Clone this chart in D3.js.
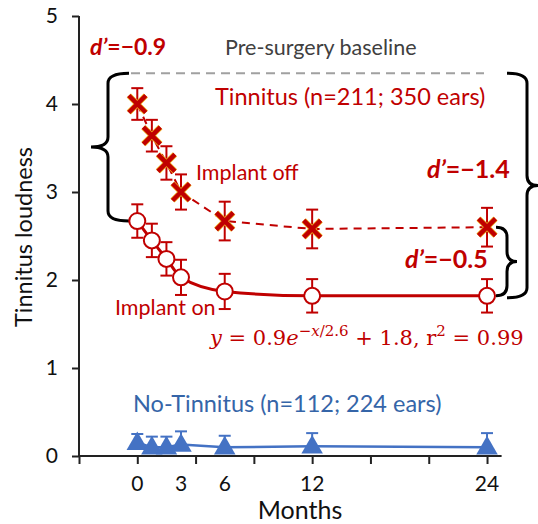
<!DOCTYPE html>
<html>
<head>
<meta charset="utf-8">
<script src="https://cdn.jsdelivr.net/npm/d3@7"></script>
<style>
  body { margin: 0; background: #fff; }
  text { font-family: Lato, "Open Sans", sans-serif; }
</style>
</head>
<body>
<svg id="chart" width="538" height="524"></svg>
<script>
var width = 538
var height = 524
var red = "#c00000";
var blue = "#4472c4";

// months after activation
var months = [0, 1, 2, 3, 6, 12, 24];
var monthLabels = [0, 3, 6, 12, 24];
var yTicks = [0, 1, 2, 3, 4, 5];
var baseline = 4.35;

var offMean = [4.0, 3.64, 3.33, 3.0, 2.67, 2.58, 2.6];
var offErr = [0.18, 0.18, 0.19, 0.2, 0.22, 0.22, 0.22];
var onMean = [2.67, 2.45, 2.24, 2.03, 1.87, 1.82, 1.82];
var onErr = [0.19, 0.19, 0.19, 0.2, 0.2, 0.19, 0.19];
var noMean = [0.15, 0.1, 0.1, 0.13, 0.1, 0.11, 0.1];
var noErr = [0.1, 0.12, 0.12, 0.15, 0.13, 0.15, 0.16];

var x = d3.scaleLinear().domain([-4, 25]).range([79, 501.6]);
var y = d3.scaleLinear().domain([0, 5]).range([456, 16]);

var svg = d3.select("#chart");

// axes
var yAxis = svg.append("g").attr("transform", "translate(79,0)")
    .call(d3.axisLeft(y).tickValues(yTicks).tickSize(7).tickPadding(14).tickFormat(d3.format("d")));
var xAxis = svg.append("g").attr("transform", "translate(0,456)")
    .call(d3.axisBottom(x).tickValues(d3.range(-4, 25, 4)).tickSize(8).tickFormat(""));
svg.selectAll(".domain").remove();
yAxis.append("line").attr("y1", 16).attr("y2", 456).attr("stroke", "#222").attr("stroke-width", 2);
xAxis.append("line").attr("x1", 79).attr("x2", 501.6).attr("stroke", "#222").attr("stroke-width", 2);
svg.selectAll(".tick line").attr("stroke", "#222").attr("stroke-width", 2);
yAxis.selectAll(".tick text").style("font-size", "21px").attr("fill", "#111").style("font-family", "Lato, sans-serif");

svg.append("g").selectAll("text")
    .data(monthLabels)
    .join("text")
    .attr("x", function(d) { return x(d); })
    .attr("y", 491)
    .attr("text-anchor", "middle")
    .style("font-size", "21px")
    .attr("fill", "#111")
    .text(function(d) { return d; });

svg.append("text").attr("x", 300).attr("y", 519).attr("text-anchor", "middle")
    .style("font-size", "25px").attr("fill", "#111").text("Months");
svg.append("text").attr("transform", "translate(32,237) rotate(-90)").attr("text-anchor", "middle")
    .style("font-size", "23.5px").attr("fill", "#111").text("Tinnitus loudness");

// pre-surgery baseline
svg.append("line")
    .attr("x1", 131).attr("x2", 484)
    .attr("y1", y(baseline)).attr("y2", y(baseline))
    .attr("stroke", "#a0a0a0").attr("stroke-width", 2).attr("stroke-dasharray", "9,6");
svg.append("text").attr("x", 225).attr("y", 55)
    .style("font-size", "21.5px").attr("fill", "#404040").text("Pre-surgery baseline");

// braces
function brace(x0, xv, xt, ya, yb) {
  var ym = (ya + yb) / 2;
  var r = 10;
  return "M" + x0 + "," + ya +
    " Q" + xv + "," + ya + " " + xv + "," + (ya + r) +
    " L" + xv + "," + (ym - r) +
    " Q" + xv + "," + ym + " " + xt + "," + ym +
    " Q" + xv + "," + ym + " " + xv + "," + (ym + r) +
    " L" + xv + "," + (yb - r) +
    " Q" + xv + "," + yb + " " + x0 + "," + yb;
}
var braceG = svg.append("g").attr("fill", "none").attr("stroke", "#000").attr("stroke-width", 3);
braceG.append("path").attr("d", brace(129, 108, 91, y(baseline), y(onMean[0])));
braceG.append("path").attr("d", brace(507, 527, 538, y(baseline), y(onMean[6]) + 2));
braceG.append("path").attr("d", brace(496, 507, 517, y(offMean[6]), y(onMean[6])));

// line generators
var lineOff = d3.line().x(function(d, i) { return x(months[i]); }).y(function(d) { return y(d); });
var lineOn = d3.line().curve(d3.curveMonotoneX).x(function(d, i) { return x(months[i]); }).y(function(d) { return y(d); });

function errorBars(g, mean, err, color, cap) {
  var eb = g.append("g").attr("stroke", color).attr("stroke-width", 2);
  mean.forEach(function(m, i) {
    var cx = x(months[i]);
    eb.append("line").attr("x1", cx).attr("x2", cx).attr("y1", y(m - err[i])).attr("y2", y(m + err[i]));
    eb.append("line").attr("x1", cx - cap).attr("x2", cx + cap).attr("y1", y(m + err[i])).attr("y2", y(m + err[i]));
    eb.append("line").attr("x1", cx - cap).attr("x2", cx + cap).attr("y1", y(m - err[i])).attr("y2", y(m - err[i]));
  });
}

// no-tinnitus
var noG = svg.append("g");
noG.append("path").attr("d", lineOff(noMean)).attr("fill", "none").attr("stroke", blue).attr("stroke-width", 2.5);
var ebNo = noG.append("g").attr("stroke", blue).attr("stroke-width", 2);
noMean.forEach(function(m, i) {
  var cx = x(months[i]);
  ebNo.append("line").attr("x1", cx).attr("x2", cx).attr("y1", y(m)).attr("y2", y(m + noErr[i]));
  ebNo.append("line").attr("x1", cx - 6).attr("x2", cx + 6).attr("y1", y(m + noErr[i])).attr("y2", y(m + noErr[i]));
});
noG.selectAll("path.tri")
    .data(noMean)
    .join("path")
    .attr("class", "tri")
    .attr("d", d3.symbol(d3.symbolTriangle, 200))
    .attr("transform", function(d, i) { return "translate(" + x(months[i]) + "," + (y(d) + 1) + ")"; })
    .attr("fill", blue);

// implant off
var offG = svg.append("g");
offG.append("path").attr("d", lineOff(offMean)).attr("fill", "none").attr("stroke", red)
    .attr("stroke-width", 2).attr("stroke-dasharray", "8,6");
errorBars(offG, offMean, offErr, red, 6);
offMean.forEach(function(m, i) {
  var cx = x(months[i]), cy = y(m), s = 8.5;
  var cross = "M" + (-s) + "," + (-s) + "L" + s + "," + s + "M" + (-s) + "," + s + "L" + s + "," + (-s);
  var mk = offG.append("g").attr("transform", "translate(" + cx + "," + cy + ")");
  mk.append("path").attr("d", cross).attr("stroke", "#f0b020").attr("stroke-width", 6);
  mk.append("path").attr("d", cross).attr("stroke", red).attr("stroke-width", 4.5);
});

// implant on
var onG = svg.append("g");
onG.append("path").attr("d", lineOn(onMean)).attr("fill", "none").attr("stroke", red).attr("stroke-width", 3);
errorBars(onG, onMean, onErr, red, 6);
onG.selectAll("circle")
    .data(onMean)
    .join("circle")
    .attr("cx", function(d, i) { return x(months[i]); })
    .attr("cy", function(d) { return y(d); })
    .attr("r", 8)
    .attr("fill", "#fff")
    .attr("stroke", red)
    .attr("stroke-width", 2);

// labels
function dprime(xp, yp, val, size) {
  var t = svg.append("text").attr("x", xp).attr("y", yp).attr("fill", red)
      .style("font-size", size + "px").style("font-weight", "bold");
  t.append("tspan").style("font-style", "italic").text("d\u2019");
  t.append("tspan").text("=\u2212" + val);
}
dprime(90, 55, "0.9", 23);
dprime(427, 178, "1.4", 25);
dprime(405, 268, "0.5", 25);

svg.append("text").attr("x", 215).attr("y", 105).attr("fill", red).style("font-size", "23.5px")
    .text("Tinnitus (n=211; 350 ears)");
svg.append("text").attr("x", 196).attr("y", 180).attr("fill", red).style("font-size", "21.5px")
    .text("Implant off");
svg.append("text").attr("x", 115).attr("y", 315).attr("fill", red).style("font-size", "21.5px")
    .text("Implant on");
svg.append("text").attr("x", 133).attr("y", 412).attr("fill", "#3565a8").style("font-size", "23.5px")
    .text("No-Tinnitus (n=112; 224 ears)");

var eq = svg.append("text").attr("x", 210).attr("y", 345).attr("fill", red)
    .style("font-size", "21px").style("font-family", "'DejaVu Serif', 'Liberation Serif', serif");
eq.append("tspan").style("font-style", "italic").text("y");
eq.append("tspan").text(" = 0.9");
eq.append("tspan").style("font-style", "italic").text("e");
eq.append("tspan").attr("dy", -9).style("font-size", "15px").text("\u2212");
eq.append("tspan").style("font-size", "15px").style("font-style", "italic").text("x");
eq.append("tspan").style("font-size", "15px").text("/2.6");
eq.append("tspan").attr("dy", 9).text(" + 1.8, r");
eq.append("tspan").attr("dy", -9).style("font-size", "15px").text("2");
eq.append("tspan").attr("dy", 9).text(" =  0.99");
</script>
</body>
</html>
